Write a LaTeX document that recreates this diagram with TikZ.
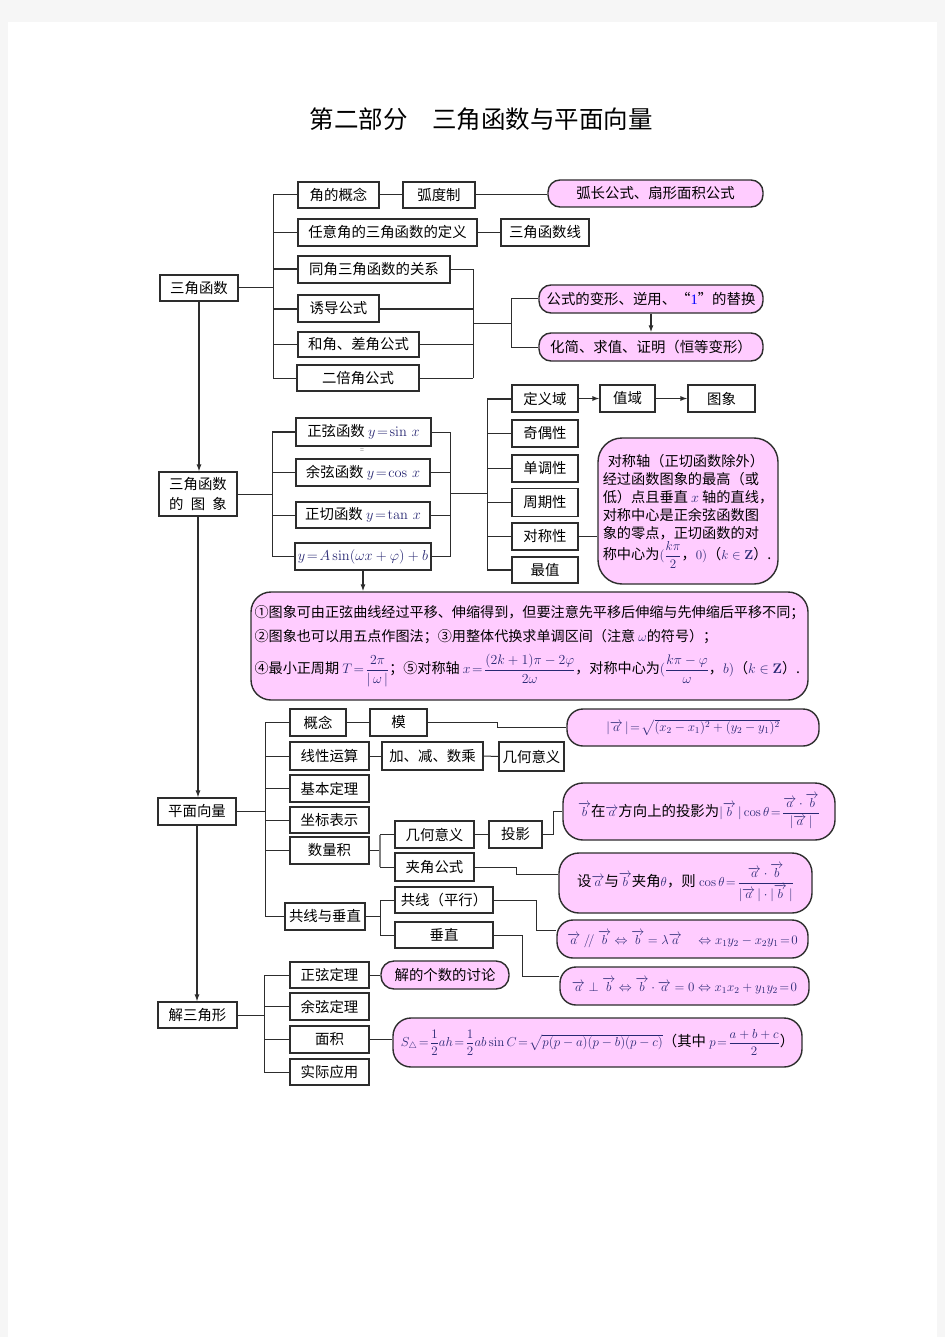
\RequirePackage{fix-cm}
\documentclass[tikz,border=0pt]{standalone}
\usepackage{amsmath,amssymb}
\usepackage[no-math]{fontspec}
\setmainfont{Noto Sans CJK SC}
\usetikzlibrary{arrows.meta}
\definecolor{pinkf}{RGB}{255,204,255}
\definecolor{edge}{RGB}{45,45,45}
\definecolor{mathc}{RGB}{40,40,115}
\newcommand{\mth}[1]{{\color{mathc}$#1$}}
\newcommand{\mths}[1]{{\fontsize{13}{15}\selectfont\color{mathc}$#1$}}
\newcommand{\mthb}[1]{{\fontsize{13.8}{16}\selectfont\color{mathc}$#1$}}
\newcommand{\va}{\overrightarrow{a}}
\newcommand{\vb}{\overrightarrow{b}}
\tikzset{
  every node/.style={font=\fontsize{14.4}{17}\selectfont, inner sep=0pt},
  box/.style={draw=edge, line width=1.1pt, fill=white},
  pbox/.style={draw=edge, line width=1.4pt, fill=pinkf, rounded corners=12pt},
  ln/.style={draw=edge, line width=1pt},
  thk/.style={draw=edge, line width=2pt},
  brk/.style={draw=gray, line width=2.2pt},
  arr/.style={draw=edge, line width=1.2pt, -{Latex[length=7pt,width=5pt]}},
}
\begin{document}
\begin{tikzpicture}[x=1pt,y=-1pt]
\fill[gray!7] (0,0) rectangle (945,1337);
\fill[white] (8,22) rectangle (937,1337);
\useasboundingbox (0,0) rectangle (945,1337);

\node[font=\fontsize{24.5}{28}\selectfont] (title) at (481,119) {第二部分　三角函数与平面向量};

% ===== Section 1 =====
\node[box, minimum width=78pt, minimum height=26pt] (s1) at (199,288) {三角函数};
\node[box, minimum width=81pt, minimum height=26pt] (n1) at (338.5,195) {角的概念};
\node[box, minimum width=72pt, minimum height=26pt] (n1b) at (439,195) {弧度制};
\node[pbox, minimum width=215pt, minimum height=27pt] (p1) at (655.5,193.5) {弧长公式、扇形面积公式};
\node[box, minimum width=179pt, minimum height=27pt] (n2) at (387.5,232.5) {任意角的三角函数的定义};
\node[box, minimum width=88pt, minimum height=27pt] (n2b) at (545,232.5) {三角函数线};
\node[box, minimum width=152pt, minimum height=27pt] (n3) at (374,269.5) {同角三角函数的关系};
\node[box, minimum width=81pt, minimum height=27pt] (n4) at (338.5,308.5) {诱导公式};
\node[box, minimum width=121pt, minimum height=25pt] (n5) at (358.5,344.5) {和角、差角公式};
\node[box, minimum width=122pt, minimum height=26pt] (n6) at (358,378) {二倍角公式};
\node[pbox, minimum width=224pt, minimum height=28pt] (p2) at (651,299) {公式的变形、逆用、“{\color{blue}\fontspec{Liberation Serif}1}”的替换};
\node[pbox, minimum width=224pt, minimum height=28pt] (p3) at (651,347) {化简、求值、证明（恒等变形）};

\coordinate (sp1) at (273,288);
\draw[ln] (s1.east) -- (sp1);
\draw[ln] (sp1 |- n1.west) -- (sp1 |- n6.west);
\foreach \n in {n1,n2,n5,n6} \draw[ln] (sp1 |- \n.west) -- (\n.west);
\foreach \n in {n3,n4} \draw[thk] (sp1 |- \n.west) -- (\n.west);
\draw[ln] (n1.east) -- (n1b.west);
\draw[ln] (n1b.east) -- (n1b.east -| p1.west);
\draw[ln] (n2.east) -- (n2b.west);
\coordinate (sr1) at (473,323);
\draw[ln] (sr1 |- n3.east) -- (sr1 |- n6.east);
\foreach \n in {n3,n5,n6} \draw[ln] (\n.east) -- (sr1 |- \n.east);
\draw[thk] (n4.east) -- (sr1 |- n4.east);
\coordinate (br1) at (511,323);
\draw[ln] (sr1) -- (br1);
\draw[ln] (br1 |- p2.west) -- (br1 |- p3.west);
\draw[ln] (br1 |- p2.west) -- (p2.west);
\draw[ln] (br1 |- p3.west) -- (p3.west);
\draw[arr] (p2.south) -- (p3.north);

% ===== Section 2 =====
\node[box, minimum width=78pt, minimum height=44pt, align=center, font=\fontsize{14.4}{20}\selectfont] (s2) at (198,494) {三角函数\\的\hspace{7.2pt}图\hspace{7.2pt}象};
\node[box, minimum width=135pt, minimum height=28pt] (f1) at (363.5,432) {正弦函数 \mth{y\!=\!\sin\,x}};
\node[font=\fontsize{7}{8}\selectfont, text=gray] (eqm) at (362,451) {=};
\node[box, minimum width=134pt, minimum height=27pt] (f2) at (363,472.5) {余弦函数 \mth{y\!=\!\cos\,x}};
\node[box, minimum width=134pt, minimum height=26pt] (f3) at (363,515) {正切函数 \mth{y\!=\!\tan\,x}};
\node[box, minimum width=136pt, minimum height=27pt] (f4) at (363,556.5) {\mth{y\!=\!A\sin(\omega x+\varphi)+b}};

\node[box, minimum width=66pt, minimum height=27pt] (d1) at (545,398.5) {定义域};
\node[box, minimum width=55pt, minimum height=27pt] (d1b) at (627.5,398.5) {值域};
\node[box, minimum width=67pt, minimum height=27pt] (d1c) at (721.5,398.5) {图象};
\node[box, minimum width=66pt, minimum height=27pt] (d2) at (545,433.5) {奇偶性};
\node[box, minimum width=66pt, minimum height=27pt] (d3) at (545,468.5) {单调性};
\node[box, minimum width=66pt, minimum height=28pt] (d4) at (545,502.5) {周期性};
\node[box, minimum width=66pt, minimum height=27pt] (d5) at (545,536.5) {对称性};
\node[box, minimum width=66pt, minimum height=26pt] (d6) at (545,570) {最值};
\node[pbox, rounded corners=24pt, minimum width=180pt, minimum height=146pt, align=left, font=\fontsize{14.2}{18.2}\selectfont] (pc) at (688,511)
  {\hspace*{5pt}对称轴（正切函数除外）\\经过函数图象的最高（或\\低）点且垂直 \mth{x} 轴的直线，\\对称中心是正余弦函数图\\象的零点，正切函数的对\\称中心为\mths{(\dfrac{k\pi}{2}}，\mths{0)}（\mths{k\in\mathbf{Z}}）.};

\node[pbox, rounded corners=20pt, minimum width=557pt, minimum height=108pt, align=left, font=\fontsize{14.1}{24}\selectfont] (pb) at (529.5,646)
  {①图象可由正弦曲线经过平移、伸缩得到，但要注意先平移后伸缩与先伸缩后平移不同；\\
   ②图象也可以用五点作图法；③用整体代换求单调区间（注意 \mths{\omega}的符号）；\\[8pt]
   ④最小正周期 \mthb{T\!=\!\dfrac{2\pi}{|\,\omega\,|}}；⑤对称轴 \mthb{x\!=\!\dfrac{(2k+1)\pi-2\varphi}{2\omega}}，对称中心为\mthb{(\dfrac{k\pi-\varphi}{\omega}}，\mthb{b)}（\mthb{k\in\mathbf{Z}}）.};

\coordinate (sp2) at (272,494);
\draw[ln] (s2.east) -- (sp2);
\draw[ln] (sp2 |- f1.west) -- (sp2 |- f4.west);
\draw[thk] (sp2 |- f1.west) -- (f1.west);
\foreach \n in {f2,f3,f4} \draw[ln] (sp2 |- \n.west) -- (\n.west);
\coordinate (sr2) at (450,493);
\draw[ln] (sr2 |- f1.east) -- (sr2 |- f4.east);
\foreach \n in {f1,f2,f3,f4} \draw[ln] (\n.east) -- (sr2 |- \n.east);
\coordinate (sp3) at (487,493);
\draw[ln] (sr2) -- (sp3);
\draw[ln] (sp3 |- d1.west) -- (sp3 |- d6.west);
\foreach \n in {d2,d3,d4,d5} \draw[ln] (sp3 |- \n.west) -- (\n.west);
\foreach \n in {d1,d6} \draw[thk] (sp3 |- \n.west) -- (\n.west);
\draw[arr] (d1.east) -- (d1b.west);
\draw[arr] (d1b.east) -- (d1c.west);
\draw[ln] (d5.east) -- (d5.east -| pc.west);
\draw[arr] (f4.south) -- (f4.south |- pb.north);

% ===== Section 3 =====
\node[box, minimum width=78pt, minimum height=27pt] (s3) at (197,811.5) {平面向量};
\node[box, minimum width=56pt, minimum height=27pt] (v1) at (318,722.5) {概念};
\node[box, minimum width=57pt, minimum height=27pt] (v1b) at (398.5,722.5) {模};
\node[pbox, rounded corners=16pt, minimum width=252pt, minimum height=37pt] (pv1) at (693,727.5)
  {\mths{|\va\,|\!=\!\sqrt{(x_2-x_1)^2+(y_2-y_1)^2}}};
\node[box, minimum width=79pt, minimum height=28pt] (v2) at (329.5,756) {线性运算};
\node[box, minimum width=101pt, minimum height=28pt] (v2b) at (432.5,756) {加、减、数乘};
\node[box, minimum width=65pt, minimum height=29pt] (v2c) at (531.5,756.5) {几何意义};
\node[box, minimum width=79pt, minimum height=27pt] (v3) at (329.5,788.5) {基本定理};
\node[box, minimum width=79pt, minimum height=26pt] (v4) at (329.5,820) {坐标表示};
\node[box, minimum width=79pt, minimum height=27pt] (v5) at (329.5,850.5) {数量积};
\node[box, minimum width=79pt, minimum height=27pt] (v5a) at (434.5,834.5) {几何意义};
\node[box, minimum width=53pt, minimum height=27pt] (v5b) at (515.5,834.5) {投影};
\node[pbox, rounded corners=20pt, minimum width=272pt, minimum height=57pt] (pv2) at (699,811.5)
  {\mths{\vb}在\mths{\va}方向上的投影为\mths{|\vb\,|\cos\theta\!=\!\dfrac{\va\cdot\vb}{|\va\,|}}};
\node[box, minimum width=79pt, minimum height=28pt] (v5c) at (434.5,867) {夹角公式};
\node[pbox, rounded corners=20pt, minimum width=253pt, minimum height=60pt] (pv3) at (685.5,883)
  {设\mths{\va}与\mths{\vb}夹角\mths{\theta}，则 \mths{\cos\theta\!=\!\dfrac{\va\cdot\vb}{|\va\,|\cdot|\vb\,|}}};
\node[box, minimum width=80pt, minimum height=27pt] (v6) at (325,916.5) {共线与垂直};
\node[box, minimum width=98pt, minimum height=26pt] (v6a) at (444,900) {共线（平行）};
\node[box, minimum width=98pt, minimum height=26pt] (v6b) at (444,935) {垂直};
\node[pbox, rounded corners=16pt, minimum width=251pt, minimum height=38pt] (pv4) at (682.5,939)
  {\mths{\va\;/\!/\;\vb\Leftrightarrow\vb=\lambda\va\quad\Leftrightarrow x_1y_2-x_2y_1\!=\!0}};
\node[pbox, rounded corners=16pt, minimum width=249pt, minimum height=38pt] (pv5) at (684.5,986)
  {\mths{\va\perp\vb\Leftrightarrow\vb\cdot\va=0\Leftrightarrow x_1x_2+y_1y_2\!=\!0}};

\coordinate (sp4) at (265,811.5);
\draw[ln] (s3.east) -- (sp4);
\draw[ln] (sp4 |- v1.west) -- (sp4 |- v6.west);
\foreach \n in {v1,v2,v3,v4,v5,v6} \draw[ln] (sp4 |- \n.west) -- (\n.west);
\draw[ln] (v1.east) -- (v1b.west);
\coordinate (k1) at (497,722.5);
\draw[ln] (v1b.east) -- (k1) |- ([yshift=-5pt]pv1.west |- k1);
\draw[ln] (v2.east) -- (v2b.west);
\draw[ln] (v2b.east) -- (v2c.west);
\coordinate (b5) at (380,850.5);
\draw[ln] (v5.east) -- (b5);
\draw[brk] (b5 |- v5a.west) -- (b5 |- v5c.west);
\draw[ln] (b5 |- v5a.west) -- (v5a.west);
\draw[ln] (b5 |- v5c.west) -- (v5c.west);
\draw[ln] (v5a.east) -- (v5b.west);
\coordinate (k2) at (553,834.5);
\draw[ln] (v5b.east) -- (k2) |- (pv2.west);
\coordinate (k3) at (516,867);
\draw[ln] (v5c.east) -- (k3) |- ([yshift=9pt]pv3.west);
\coordinate (b6) at (380,916.5);
\draw[ln] (v6.east) -- (b6);
\draw[ln] (b6 |- v6a.west) -- (b6 |- v6b.west);
\draw[ln] (b6 |- v6a.west) -- (v6a.west);
\draw[ln] (b6 |- v6b.west) -- (v6b.west);
\coordinate (k4) at (536,900);
\draw[ln] (v6a.east) -- (k4) |- ([yshift=9pt]pv4.west);
\coordinate (k5) at (522,935);
\draw[ln] (v6b.east) -- (k5) |- ([yshift=10pt]pv5.west);

% ===== Section 4 =====
\node[box, minimum width=79pt, minimum height=26pt] (s4) at (197.5,1015) {解三角形};
\node[box, minimum width=79pt, minimum height=26pt] (t1) at (329.5,975) {正弦定理};
\node[pbox, rounded corners=13pt, minimum width=128pt, minimum height=28pt] (pt1) at (445,975) {解的个数的讨论};
\node[box, minimum width=79pt, minimum height=27pt] (t2) at (329.5,1006.5) {余弦定理};
\node[box, minimum width=79pt, minimum height=27pt] (t3) at (329.5,1039.5) {面积};
\node[box, minimum width=79pt, minimum height=26pt] (t4) at (329.5,1072) {实际应用};
\node[pbox, rounded corners=18pt, minimum width=409pt, minimum height=49pt] (pt2) at (597.5,1042.5)
  {\mths{S_{\triangle}\!=\!\dfrac12ah\!=\!\dfrac12ab\sin C\!=\!\sqrt{p(p-a)(p-b)(p-c)}}（其中 \mths{p\!=\!\dfrac{a+b+c}{2}}）};

\coordinate (sp5) at (264,1015);
\draw[ln] (s4.east) -- (sp5);
\draw[ln] (sp5 |- t1.west) -- (sp5 |- t4.west);
\foreach \n in {t1,t2,t3,t4} \draw[ln] (sp5 |- \n.west) -- (\n.west);
\draw[ln] (t1.east) -- (pt1.west);
\draw[ln] (t3.east) -- (t3.east -| pt2.west);

% ===== main arrows =====
\draw[arr] (s1.south) -- (s1.south |- s2.north);
\draw[arr] (s2.south) -- (s2.south |- s3.north);
\draw[arr] (s3.south) -- (s3.south |- s4.north);
\end{tikzpicture}
\end{document}
